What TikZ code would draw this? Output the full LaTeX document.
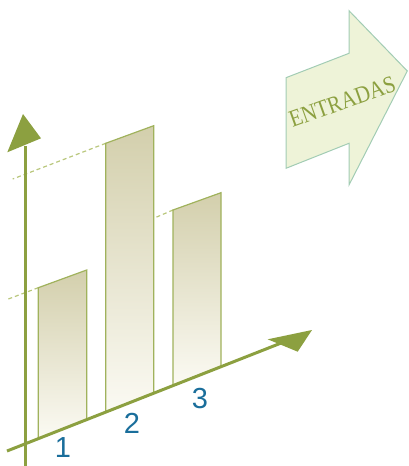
\documentclass[tikz,border=0pt]{standalone}
\usepackage{fontspec}
\setmainfont{Liberation Serif}
\newfontfamily\numfont{Liberation Sans}
\usetikzlibrary{arrows.meta, calc}
\definecolor{myolive}{RGB}{140,160,64}
\definecolor{mybarline}{RGB}{160,178,92}
\definecolor{mytan}{RGB}{211,207,172}
\definecolor{mycream}{RGB}{251,250,243}
\definecolor{mydash}{RGB}{185,199,124}
\definecolor{myblue}{RGB}{26,110,155}
\definecolor{mypale}{RGB}{238,243,216}
\definecolor{myteal}{RGB}{162,204,180}
\tikzstyle{bar} = [draw=mybarline, line width=1.2,
    top color=mytan, bottom color=mycream]
\tikzstyle{dashline} = [draw=mydash, line width=1.2, dash pattern=on 4 off 3]
\tikzstyle{axisline} = [draw=myolive, line width=3]
\tikzstyle{axishead} = [fill=myolive, draw=none]
\tikzstyle{num} = [text=myblue, inner sep=0,
    font=\numfont\fontsize{29}{29}\selectfont]
\tikzstyle{bigarrow} = [draw=myteal, line width=1, fill=mypale]

\begin{document}
\begin{tikzpicture}[x=1pt, y=-1pt]
\useasboundingbox (0,0) rectangle (408,466);

%%% dashed guide lines
\draw[dashline] (38.3,287.7) -- (7,299.5);
\draw[dashline] (105.7,143.3) -- (12.7,179);
\draw[dashline] (173,210) -- (153.7,218.3);

%%% bars
\shade[bar] (38.3,438.6) -- (38.3,287.7) -- (86.7,270) -- (86.7,419.4) -- cycle;
\shade[bar] (105.7,411.8) -- (105.7,143.3) -- (153.7,125.7) -- (153.7,392.8) -- cycle;
\shade[bar] (173,385.1) -- (173,210) -- (221,192.7) -- (221,366.1) -- cycle;

%%% axes
\coordinate (ybot) at (25,466);
\coordinate (ytop) at (25,146);
\coordinate (xleft) at (7,451);
\coordinate (xright) at (285,341.5);
\draw[axisline] (ybot) -- (ytop);
\draw[axisline] (xleft) -- (xright);
\fill[axishead] (23,114) -- (41,138.3) -- (7.3,152.3) -- cycle;
\fill[axishead] (312,330) -- (297.7,351.7) -- (267.7,339.3) -- cycle;

\node[num] (n1) at (63,448) {1};
\node[num] (n2) at (132,423.5) {2};
\node[num] (n3) at (200,398.5) {3};

%%% entradas
\draw[bigarrow] (286,77.7) -- (349,53.3) -- (349,10.7) -- (407.3,71)
    -- (349,185) -- (349,143.3) -- (286,168.3) -- cycle;
\node[text=myolive, rotate=19.7, xscale=0.87, inner sep=0,
    font=\fontsize{24}{24}\selectfont] (entr) at (342.3,101.6) {ENTRADAS};

\end{tikzpicture}
\end{document}
